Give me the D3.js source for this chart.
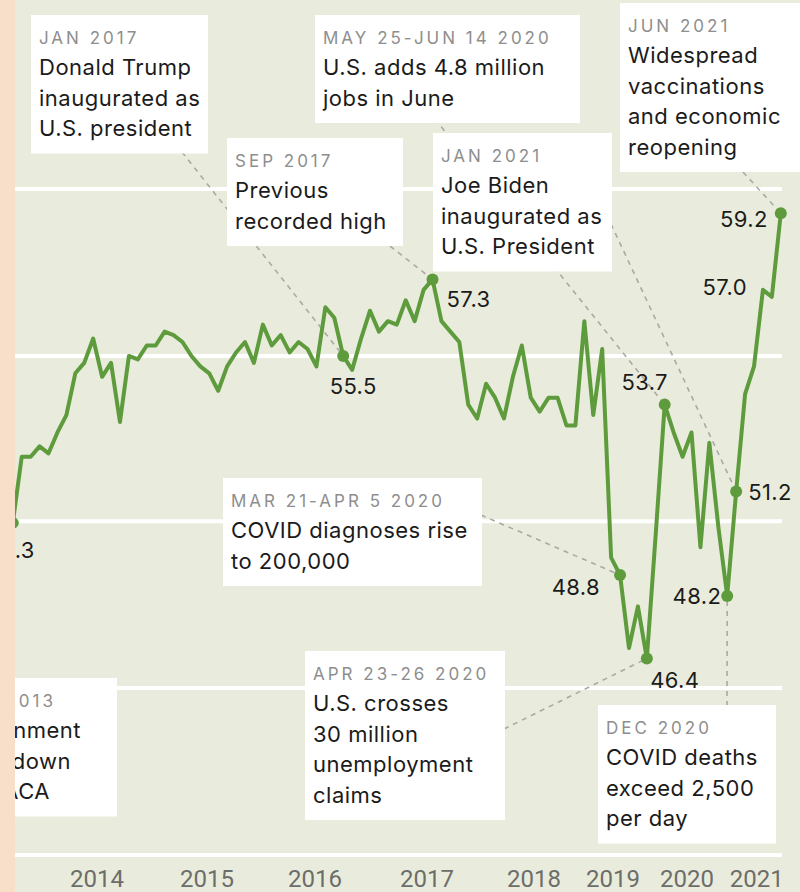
<!DOCTYPE html>
<html>
<head>
<meta charset="utf-8">
<script src="https://cdn.jsdelivr.net/npm/d3@7"></script>
<style>
  body { margin: 0; background: #e9ecdc; }
  svg { display: block; }
</style>
</head>
<body>
<div id="chart"></div>
<script>
// index values, one per survey release
const values = [
  50.3, 52.2, 52.2, 52.5, 52.3, 52.9, 53.4, 54.6, 54.9, 55.6,
  54.5, 54.9, 53.2, 55.1, 55.0, 55.4, 55.4, 55.8, 55.7, 55.5,
  55.1, 54.8, 54.6, 54.1, 54.8, 55.2, 55.5, 54.9, 56.0, 55.4,
  55.7, 55.2, 55.5, 55.3, 54.8, 56.5, 56.2, 55.1, 54.7, 55.6,
  56.4, 55.8, 56.1, 56.0, 56.7, 56.1, 57.0, 57.3, 56.1, 55.8,
  55.5, 53.7, 53.3, 54.3, 53.9, 53.3, 54.5, 55.4, 53.9, 53.5,
  53.9, 53.9, 53.1, 53.1, 56.1, 53.4, 55.3, 49.3, 48.8, 46.7,
  47.9, 46.4, 50.0, 53.7, 52.9, 52.2, 52.9, 49.6, 52.6, 50.2,
  48.2, 51.2, 54.0, 54.8, 57.0, 56.8, 59.2
]

// horizontal grid levels (no tick labels shown)
const gridValues = [59.9, 55.1, 50.35, 45.55, 40.75]

// year labels and where they sit along the series
const yearLabels = ["2014", "2015", "2016", "2017", "2018", "2019", "2020", "2021"]
const yearIndex = [9.43, 21.75, 33.84, 46.38, 58.36, 67.2, 75.5, 83.3]

// value labels on the line
const valueLabels = ["50.3", "55.5", "57.3", "53.7", "51.2", "48.8", "46.4", "48.2", "57.0", "59.2"]
const valueIndex = [0, 37, 47, 73, 81, 68, 71, 80, 84, 86]
const dotIndex = [0, 37, 47, 68, 71, 73, 80, 81, 86]

// annotations
const noteDates = ["JAN 2017", "SEP 2017", "MAY 25-JUN 14 2020", "JAN 2021", "JUN 2021",
  "MAR 21-APR 5 2020", "APR 23-26 2020", "DEC 2020", "OCT 2013"]
const noteLines = [
  ["Donald Trump", "inaugurated as", "U.S. president"],
  ["Previous", "recorded high"],
  ["U.S. adds 4.8 million", "jobs in June"],
  ["Joe Biden", "inaugurated as", "U.S. President"],
  ["Widespread", "vaccinations", "and economic", "reopening"],
  ["COVID diagnoses rise", "to 200,000"],
  ["U.S. crosses", "30 million", "unemployment", "claims"],
  ["COVID deaths", "exceed 2,500", "per day"],
  ["Government", "shutdown", "over ACA"]
]
const noteIndex = [37, 47, 73, 81, 86, 68, 71, 80, null]

// ---- layout (positions only) ----
const width = 800, height = 892
// box left, top, width, and leader start
const noteBoxes = [
  { x: 31, y: 15, w: 177, lx: 182, ly: 152 },
  { x: 227, y: 138, w: 176, lx: 390, ly: 246 },
  { x: 315, y: 15, w: 265, lx: 435, ly: 119 },
  { x: 433, y: 133, w: 179, lx: 611, ly: 224 },
  { x: 620, y: 3, w: 190, lx: 743, ly: 172 },
  { x: 223, y: 478, w: 259, lx: 481, ly: 515 },
  { x: 305, y: 651, w: 200, lx: 504, ly: 729 },
  { x: 598, y: 705, w: 178, lx: 727, ly: 706 },
  { x: -120, y: 678, w: 237, ends: [56, 81, 71, 50] }
]
// label offsets from the point: dx, dy, anchor
const valueOffsets = [
  [22, 35, "end"], [10, 38, "middle"], [14, 28, "start"], [-20, -15, "middle"],
  [12, 8, "start"], [-20, 20, "end"], [28, 29, "middle"], [-6, 8, "end"],
  [-16, 5, "end"], [-13, 14, "end"]
]

const green = "#5e9b3d"
const textFont = "Inter, 'Noto Sans', sans-serif"

const svg = d3.select("#chart").append("svg")
    .attr("width", width)
    .attr("height", height)

svg.append("rect")
    .attr("width", width).attr("height", height)
    .attr("fill", "#e9ecdc")

const x = d3.scaleLinear().domain([0, values.length - 1]).range([12.8, 780.8])
const y = d3.scaleLinear().domain(d3.extent(gridValues)).range([855, 189])

// grid lines
svg.append("g")
    .selectAll("line")
    .data(gridValues)
    .enter()
    .append("line")
        .attr("x1", 15)
        .attr("x2", 782)
        .attr("y1", d => y(d))
        .attr("y2", d => y(d))
        .attr("stroke", "#ffffff")
        .attr("stroke-width", 4)

// leader lines (drawn under the boxes)
svg.append("g")
    .selectAll("line")
    .data(noteIndex.map((idx, i) => ({ idx: idx, box: noteBoxes[i] })).filter(d => d.idx !== null))
    .enter()
    .append("line")
        .attr("x1", d => d.box.lx)
        .attr("y1", d => d.box.ly)
        .attr("x2", d => x(d.idx))
        .attr("y2", d => y(values[d.idx]))
        .attr("stroke", "#a8aaa3")
        .attr("stroke-width", 1.6)
        .attr("stroke-dasharray", "5,5")

// annotation boxes
const notes = svg.append("g")
    .selectAll("g")
    .data(noteDates.map((date, i) => ({ date: date, lines: noteLines[i], box: noteBoxes[i] })))
    .enter()
    .append("g")

notes.append("rect")
    .attr("x", d => d.box.x)
    .attr("y", d => d.box.y)
    .attr("width", d => d.box.w)
    .attr("height", d => 47 + 30.5 * d.lines.length)
    .attr("fill", "#ffffff")

notes.append("text")
    .attr("x", d => d.box.ends ? d.box.ends[0] : d.box.x + 8)
    .attr("y", d => d.box.y + 29)
    .attr("text-anchor", d => d.box.ends ? "end" : "start")
    .style("font-family", textFont)
    .style("font-size", "17px")
    .style("letter-spacing", "3px")
    .style("fill", "#8e8e8e")
    .text(d => d.date)

notes.each(function(d) {
    d3.select(this).selectAll("text.body")
        .data(d.lines)
        .enter()
        .append("text")
            .attr("class", "body")
            .attr("x", (t, j) => d.box.ends ? d.box.ends[j + 1] : d.box.x + 8)
            .attr("y", (t, j) => d.box.y + 60 + 30.5 * j)
            .attr("text-anchor", d.box.ends ? "end" : "start")
            .style("font-family", textFont)
            .style("font-size", "22px")
            .style("letter-spacing", "0.5px")
            .style("fill", "#1b1b1b")
            .text(t => t)
})

// the series
const line = d3.line()
    .x((d, i) => x(i))
    .y(d => y(d))

svg.append("path")
    .datum(values)
    .attr("d", line)
    .attr("fill", "none")
    .attr("stroke", green)
    .attr("stroke-width", 4)
    .attr("stroke-linejoin", "round")

svg.append("g")
    .selectAll("circle")
    .data(dotIndex)
    .enter()
    .append("circle")
        .attr("cx", d => x(d))
        .attr("cy", d => y(values[d]))
        .attr("r", 6)
        .attr("fill", green)

svg.append("g")
    .selectAll("text")
    .data(valueLabels.map((lab, i) => ({ lab: lab, idx: valueIndex[i], off: valueOffsets[i] })))
    .enter()
    .append("text")
        .attr("x", d => x(d.idx) + d.off[0])
        .attr("y", d => y(values[d.idx]) + d.off[1])
        .attr("text-anchor", d => d.off[2])
        .style("font-family", textFont)
        .style("font-size", "22px")
        .style("letter-spacing", "0.4px")
        .style("fill", "#1b1b1b")
        .text(d => d.lab)

// peach strip on the left edge
svg.append("rect")
    .attr("x", 0).attr("y", 0)
    .attr("width", 15).attr("height", height)
    .attr("fill", "#f8dfca")

// year labels
svg.append("g")
    .selectAll("text")
    .data(yearLabels)
    .enter()
    .append("text")
        .attr("x", (d, i) => x(yearIndex[i]))
        .attr("y", 887)
        .attr("text-anchor", "middle")
        .style("font-family", "Roboto, sans-serif")
        .style("font-size", "24px")
        .style("fill", "#6d6d6a")
        .text(d => d)
</script>
</body>
</html>
